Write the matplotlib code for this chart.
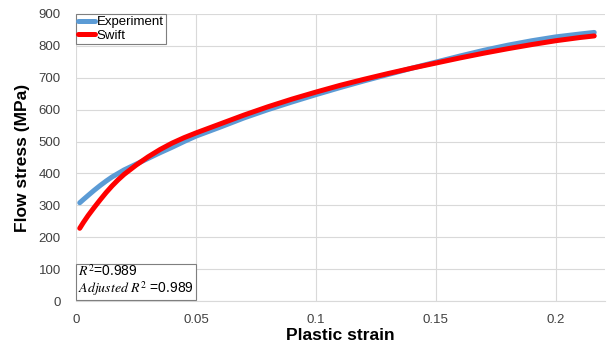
import matplotlib
matplotlib.use("Agg")
import matplotlib.pyplot as plt

plt.rcParams['font.family'] = ['Liberation Sans', 'DejaVu Sans']
plt.rcParams['mathtext.fontset'] = 'stix'

# values
exp_strain = [0.0015, 0.003, 0.005, 0.0075, 0.01, 0.0125, 0.015, 0.0175, 0.02,
              0.025, 0.03, 0.035, 0.04, 0.045, 0.05, 0.06, 0.07, 0.08, 0.09,
              0.1, 0.11, 0.12, 0.13, 0.14, 0.15, 0.16, 0.17, 0.18, 0.19, 0.2,
              0.21, 0.216]
exp_stress = [308, 318, 331, 347, 362, 376, 389, 400, 411,
              429, 447, 465, 482, 500, 517, 545, 574, 600, 624,
              647, 669, 690, 710, 730, 749, 768, 786, 802, 816, 828,
              837, 842]

swift_strain = [0.0015, 0.003, 0.005, 0.0075, 0.01, 0.0125, 0.015, 0.0175, 0.02,
                0.025, 0.03, 0.035, 0.04, 0.045, 0.05, 0.06, 0.07, 0.08, 0.09,
                0.1, 0.11, 0.12, 0.13, 0.14, 0.15, 0.16, 0.17, 0.18, 0.19, 0.2,
                0.21, 0.216]
swift_stress = [228, 246, 268, 293, 317, 340, 361, 380, 397,
                426, 452, 475, 495, 512, 527, 555, 583, 609, 633,
                655, 676, 695, 713, 730, 746, 762, 777, 791, 804, 816,
                826, 831]

r2 = 0.989
r2_adj = 0.989

fig = plt.figure(figsize=(6.14, 3.48), dpi=100)
ax = fig.add_axes([0.124, 0.135, 0.861, 0.825])

ax.plot(exp_strain, exp_stress, color='#5B9BD5', lw=3.6, label='Experiment',
        solid_capstyle='round')
ax.plot(swift_strain, swift_stress, color='#FF0000', lw=3.6, label='Swift',
        solid_capstyle='round')

ax.set_xlim(0, 0.2204)
ax.set_ylim(0, 900)
ax.set_xticks([0, 0.05, 0.1, 0.15, 0.2])
ax.set_xticklabels(['0', '0.05', '0.1', '0.15', '0.2'])
ax.set_yticks(range(0, 901, 100))
ax.grid(True, color='#D9D9D9', lw=0.8)
ax.set_axisbelow(True)
for s in ['top', 'right', 'left']:
    ax.spines[s].set_visible(False)
ax.spines['bottom'].set_color('#D9D9D9')
ax.tick_params(axis='x', length=0, labelsize=9.5, colors='#404040', pad=9)
ax.tick_params(axis='y', length=0, labelsize=9.5, colors='#404040', pad=11)

ax.set_xlabel('Plastic strain', fontsize=12.5, fontweight='bold', labelpad=2)
ax.set_ylabel('Flow stress (MPa)', fontsize=12.5, fontweight='bold', labelpad=6)

leg = ax.legend(loc='upper left', bbox_to_anchor=(0, 1), fontsize=9.5,
                fancybox=False, framealpha=1, edgecolor='#7F7F7F',
                handlelength=1.3, handletextpad=0.1, borderpad=0.15,
                labelspacing=0.1, borderaxespad=0)
leg.get_frame().set_linewidth(0.8)

ax.text(0.004, 0.012, '$R^2$=%.3f\n$Adjusted\\ R^2$ =%.3f' % (r2, r2_adj),
        transform=ax.transAxes, fontsize=10, va='bottom', ha='left',
        linespacing=0.95,
        bbox=dict(boxstyle='square,pad=0.15', fc='white', ec='#7F7F7F', lw=0.8))

fig.savefig('out.png', dpi=100)
